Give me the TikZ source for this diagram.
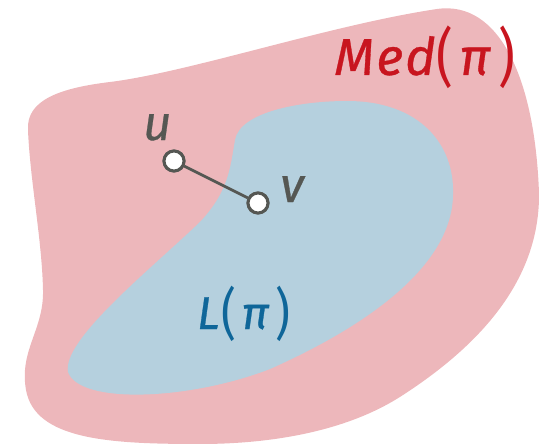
\documentclass[tikz,border=0pt]{standalone}
\usepackage{graphicx}
\usepackage{fontspec}
\setmainfont{Fira Sans}[ItalicFeatures={FakeBold=0.6}]
\definecolor{pinkfill}{HTML}{EDB7BB}
\definecolor{bluefill}{HTML}{B5D0DE}
\definecolor{redtext}{HTML}{C8151F}
\definecolor{bluetext}{HTML}{0F6699}
\definecolor{graytone}{HTML}{555753}
\newcommand{\tallparen}[1]{\raisebox{-0.09em}{\scalebox{1}[1.22]{#1}}}
\tikzset{
  vertex/.style={circle, draw=graytone, fill=white, line width=3pt, minimum size=20pt, inner sep=0pt},
  edgeline/.style={draw=graytone, line width=2.8pt},
  lbl/.style={inner sep=0pt, anchor=base west, font=\fontsize{49}{58}\selectfont\itshape},
}
\begin{document}
\begin{tikzpicture}[x=1pt, y=-1pt]
\useasboundingbox (0,0) rectangle (539,444);
% outer region
\fill[pinkfill] (28,130) .. controls (26,100) and (60,88) .. (110,82)
  .. controls (190,72) and (330,25) .. (437,9)
  .. controls (500,0) and (535,80) .. (539,193)
  .. controls (540,280) and (480,345) .. (403,395)
  .. controls (342,435) and (260,444) .. (200,444)
  .. controls (110,444) and (35,440) .. (26,390)
  .. controls (19,350) and (44,330) .. (43,290)
  .. controls (42,240) and (30,180) .. (28,130) -- cycle;
% inner region
\fill[bluefill] (347,101) .. controls (420,101) and (455,145) .. (453,195)
  .. controls (452,260) and (380,320) .. (270,369)
  .. controls (190,400) and (80,405) .. (68,372)
  .. controls (62,340) and (150,270) .. (200,222)
  .. controls (228,192) and (230,170) .. (235,140)
  .. controls (240,112) and (300,101) .. (347,101) -- cycle;
% vertices
\node[vertex] (u) at (174,161) {};
\node[vertex] (v) at (258,203) {};
\draw[edgeline] (u) -- (v);
\node[vertex] at (u) {};
\node[vertex] at (v) {};
% labels
\node[lbl, text=graytone] (ulabel) at (143,140) {u};
\node[lbl, text=graytone] (vlabel) at (280,202) {v};
\node[lbl, text=redtext, font=\fontsize{52}{60}\selectfont\itshape] (medlabel) at (334,75) {M\kern2pt e\kern2pt d\kern1pt\tallparen{\upshape(}\kern6ptπ\kern8pt\tallparen{\upshape)}};
\node[lbl, text=bluetext, font=\fontsize{46}{54}\selectfont\itshape] (llabel) at (197,329) {L\kern2pt\tallparen{\upshape(}\kern5ptπ\kern7pt\tallparen{\upshape)}};
\end{tikzpicture}
\end{document}
